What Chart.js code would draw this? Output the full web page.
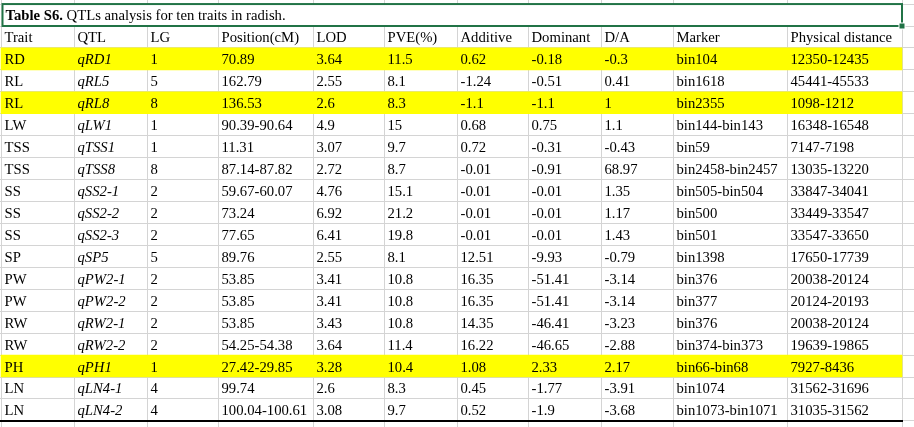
<!DOCTYPE html>
<html>
<head>
<meta charset="utf-8">
<script src="https://cdn.jsdelivr.net/npm/chart.js@4.4.1/dist/chart.umd.min.js"></script>
<style>
  html, body { margin: 0; padding: 0; background: #ffffff; }
  #wrap { width: 914px; height: 427px; position: relative; }
</style>
</head>
<body>
<div id="wrap"><canvas id="c" width="914" height="427"></canvas></div>
<script>
// ---------- DATA ----------
const titleBold = 'Table S6.';
const titleRest = ' QTLs analysis for ten traits in radish.';
const columns = ['Trait', 'QTL', 'LG', 'Position(cM)', 'LOD', 'PVE(%)', 'Additive', 'Dominant', 'D/A', 'Marker', 'Physical distance'];
const traits = ['RD', 'RL', 'RL', 'LW', 'TSS', 'TSS', 'SS', 'SS', 'SS', 'SP', 'PW', 'PW', 'RW', 'RW', 'PH', 'LN', 'LN'];
const qtls = ['qRD1', 'qRL5', 'qRL8', 'qLW1', 'qTSS1', 'qTSS8', 'qSS2-1', 'qSS2-2', 'qSS2-3', 'qSP5', 'qPW2-1', 'qPW2-2', 'qRW2-1', 'qRW2-2', 'qPH1', 'qLN4-1', 'qLN4-2'];
const lg = ['1', '5', '8', '1', '1', '8', '2', '2', '2', '5', '2', '2', '2', '2', '1', '4', '4'];
const positions = ['70.89', '162.79', '136.53', '90.39-90.64', '11.31', '87.14-87.82', '59.67-60.07', '73.24', '77.65', '89.76', '53.85', '53.85', '53.85', '54.25-54.38', '27.42-29.85', '99.74', '100.04-100.61'];
const lod = ['3.64', '2.55', '2.6', '4.9', '3.07', '2.72', '4.76', '6.92', '6.41', '2.55', '3.41', '3.41', '3.43', '3.64', '3.28', '2.6', '3.08'];
const pve = ['11.5', '8.1', '8.3', '15', '9.7', '8.7', '15.1', '21.2', '19.8', '8.1', '10.8', '10.8', '10.8', '11.4', '10.4', '8.3', '9.7'];
const additive = ['0.62', '-1.24', '-1.1', '0.68', '0.72', '-0.01', '-0.01', '-0.01', '-0.01', '12.51', '16.35', '16.35', '14.35', '16.22', '1.08', '0.45', '0.52'];
const dominant = ['-0.18', '-0.51', '-1.1', '0.75', '-0.31', '-0.91', '-0.01', '-0.01', '-0.01', '-9.93', '-51.41', '-51.41', '-46.41', '-46.65', '2.33', '-1.77', '-1.9'];
const dOverA = ['-0.3', '0.41', '1', '1.1', '-0.43', '68.97', '1.35', '1.17', '1.43', '-0.79', '-3.14', '-3.14', '-3.23', '-2.88', '2.17', '-3.91', '-3.68'];
const markers = ['bin104', 'bin1618', 'bin2355', 'bin144-bin143', 'bin59', 'bin2458-bin2457', 'bin505-bin504', 'bin500', 'bin501', 'bin1398', 'bin376', 'bin377', 'bin376', 'bin374-bin373', 'bin66-bin68', 'bin1074', 'bin1073-bin1071'];
const physical = ['12350-12435', '45441-45533', '1098-1212', '16348-16548', '7147-7198', '13035-13220', '33847-34041', '33449-33547', '33547-33650', '17650-17739', '20038-20124', '20124-20193', '20038-20124', '19639-19865', '7927-8436', '31562-31696', '31035-31562'];
const highlightedQtls = ['qRD1', 'qRL8', 'qPH1'];

// ---------- LAYOUT (sheet geometry, not data) ----------
const COL_EDGES = [1, 74, 147, 218, 313, 384, 457, 528, 601, 673, 787, 902];
const SHEET_WIDTH = 914;
const ROW_H = 21.94;             // px per sheet row
const TOP_OFFSET = 4.06;         // px of the row above the title
const FIRST_DATA_ROW = 2;        // 0 = title, 1 = header
const NROWS = 2 + traits.length; // title + header + data
const FONT = '"Liberation Serif", "Times New Roman", serif';
const FS = 14.7;

const tableCols = [traits, qtls, lg, positions, lod, pve, additive, dominant, dOverA, markers, physical];

const yellowData = [];
qtls.forEach((q, i) => {
  if (highlightedQtls.includes(q)) {
    yellowData.push({ y: FIRST_DATA_ROW + i + 0.5, x: [COL_EDGES[0], COL_EDGES[COL_EDGES.length - 1]] });
  }
});

const tablePlugin = {
  id: 'tablePlugin',
  beforeDatasetsDraw(chart) {
    const ctx = chart.ctx;
    const xs = chart.scales.x, ys = chart.scales.y;
    const xl = xs.getPixelForValue(COL_EDGES[0]);
    const xr = xs.getPixelForValue(COL_EDGES[COL_EDGES.length - 1]);
    const yt = ys.getPixelForValue(0), yb = ys.getPixelForValue(1);
    ctx.save();
    ctx.fillStyle = '#ffffff';
    ctx.fillRect(xl + 0.5, yt, xr - xl, yb - yt);
    ctx.restore();
  },
  afterDatasetsDraw(chart) {
    const ctx = chart.ctx;
    const xs = chart.scales.x, ys = chart.scales.y;
    const xl = xs.getPixelForValue(COL_EDGES[0]);
    const xr = xs.getPixelForValue(COL_EDGES[COL_EDGES.length - 1]);
    ctx.save();
    ctx.textBaseline = 'alphabetic';
    ctx.textAlign = 'left';
    ctx.fillStyle = '#000000';
    const pad = 3.5;
    const base = (k) => ys.getPixelForValue(k + 1) - 5.5;

    // title
    ctx.font = 'bold ' + FS + 'px ' + FONT;
    const tx = xl + 4.5;
    const ty = ys.getPixelForValue(1) - 6;
    ctx.fillText(titleBold, tx, ty);
    const bw = ctx.measureText(titleBold).width;
    ctx.font = FS + 'px ' + FONT;
    ctx.fillText(titleRest, tx + bw, ty);

    // header
    columns.forEach((c, j) => {
      ctx.font = FS + 'px ' + FONT;
      ctx.fillText(c, xs.getPixelForValue(COL_EDGES[j]) + pad, base(1));
    });

    // data cells
    tableCols.forEach((col, j) => {
      ctx.font = (j === 1 ? 'italic ' : '') + FS + 'px ' + FONT;
      col.forEach((v, i) => {
        ctx.fillText(v, xs.getPixelForValue(COL_EDGES[j]) + pad, base(FIRST_DATA_ROW + i));
      });
    });

    // bottom thick border
    const yBottom = ys.getPixelForValue(NROWS);
    ctx.strokeStyle = '#000000';
    ctx.lineWidth = 2;
    ctx.beginPath();
    ctx.moveTo(xs.getPixelForValue(0), yBottom);
    ctx.lineTo(xr + 1, yBottom);
    ctx.stroke();

    // selected title cell (green border + handle)
    const yt = ys.getPixelForValue(0), yb = ys.getPixelForValue(1);
    ctx.strokeStyle = '#217346';
    ctx.lineWidth = 2;
    ctx.strokeRect(xl + 1.5, yt, xr - xl - 1.5, yb - yt);
    ctx.fillStyle = '#ffffff';
    ctx.fillRect(xr - 3.5, yb - 3.5, 7, 7);
    ctx.fillStyle = '#217346';
    ctx.fillRect(xr - 2.5, yb - 2.5, 5, 5);
    ctx.restore();
  }
};

new Chart(document.getElementById('c'), {
  type: 'bar',
  data: {
    datasets: [{
      label: 'highlight',
      data: yellowData,
      backgroundColor: '#ffff00',
      borderWidth: 0,
      barPercentage: 1,
      categoryPercentage: 1,
      grouped: false
    }]
  },
  options: {
    indexAxis: 'y',
    responsive: false,
    animation: false,
    devicePixelRatio: 1,
    events: [],
    layout: { padding: 0 },
    plugins: { legend: { display: false }, tooltip: { enabled: false }, title: { display: false } },
    scales: {
      x: {
        type: 'linear',
        min: 0,
        max: SHEET_WIDTH,
        offset: false,
        afterBuildTicks: (s) => { s.ticks = COL_EDGES.map(v => ({ value: v })); },
        afterFit: (s) => { s.height = 0; },
        ticks: { display: false },
        grid: { color: '#d4d4d4', lineWidth: 1, drawTicks: false },
        border: { display: false }
      },
      y: {
        type: 'linear',
        reverse: true,
        offset: false,
        min: -TOP_OFFSET / ROW_H,
        max: (427 - TOP_OFFSET) / ROW_H,
        afterBuildTicks: (s) => {
          const t = [];
          for (let k = 0; k <= NROWS + 1; k++) t.push({ value: k });
          s.ticks = t;
        },
        afterFit: (s) => { s.width = 0; },
        ticks: { display: false },
        grid: { color: '#d4d4d4', lineWidth: 1, drawTicks: false, offset: false },
        border: { display: false }
      }
    }
  },
  plugins: [tablePlugin]
});
</script>
</body>
</html>
